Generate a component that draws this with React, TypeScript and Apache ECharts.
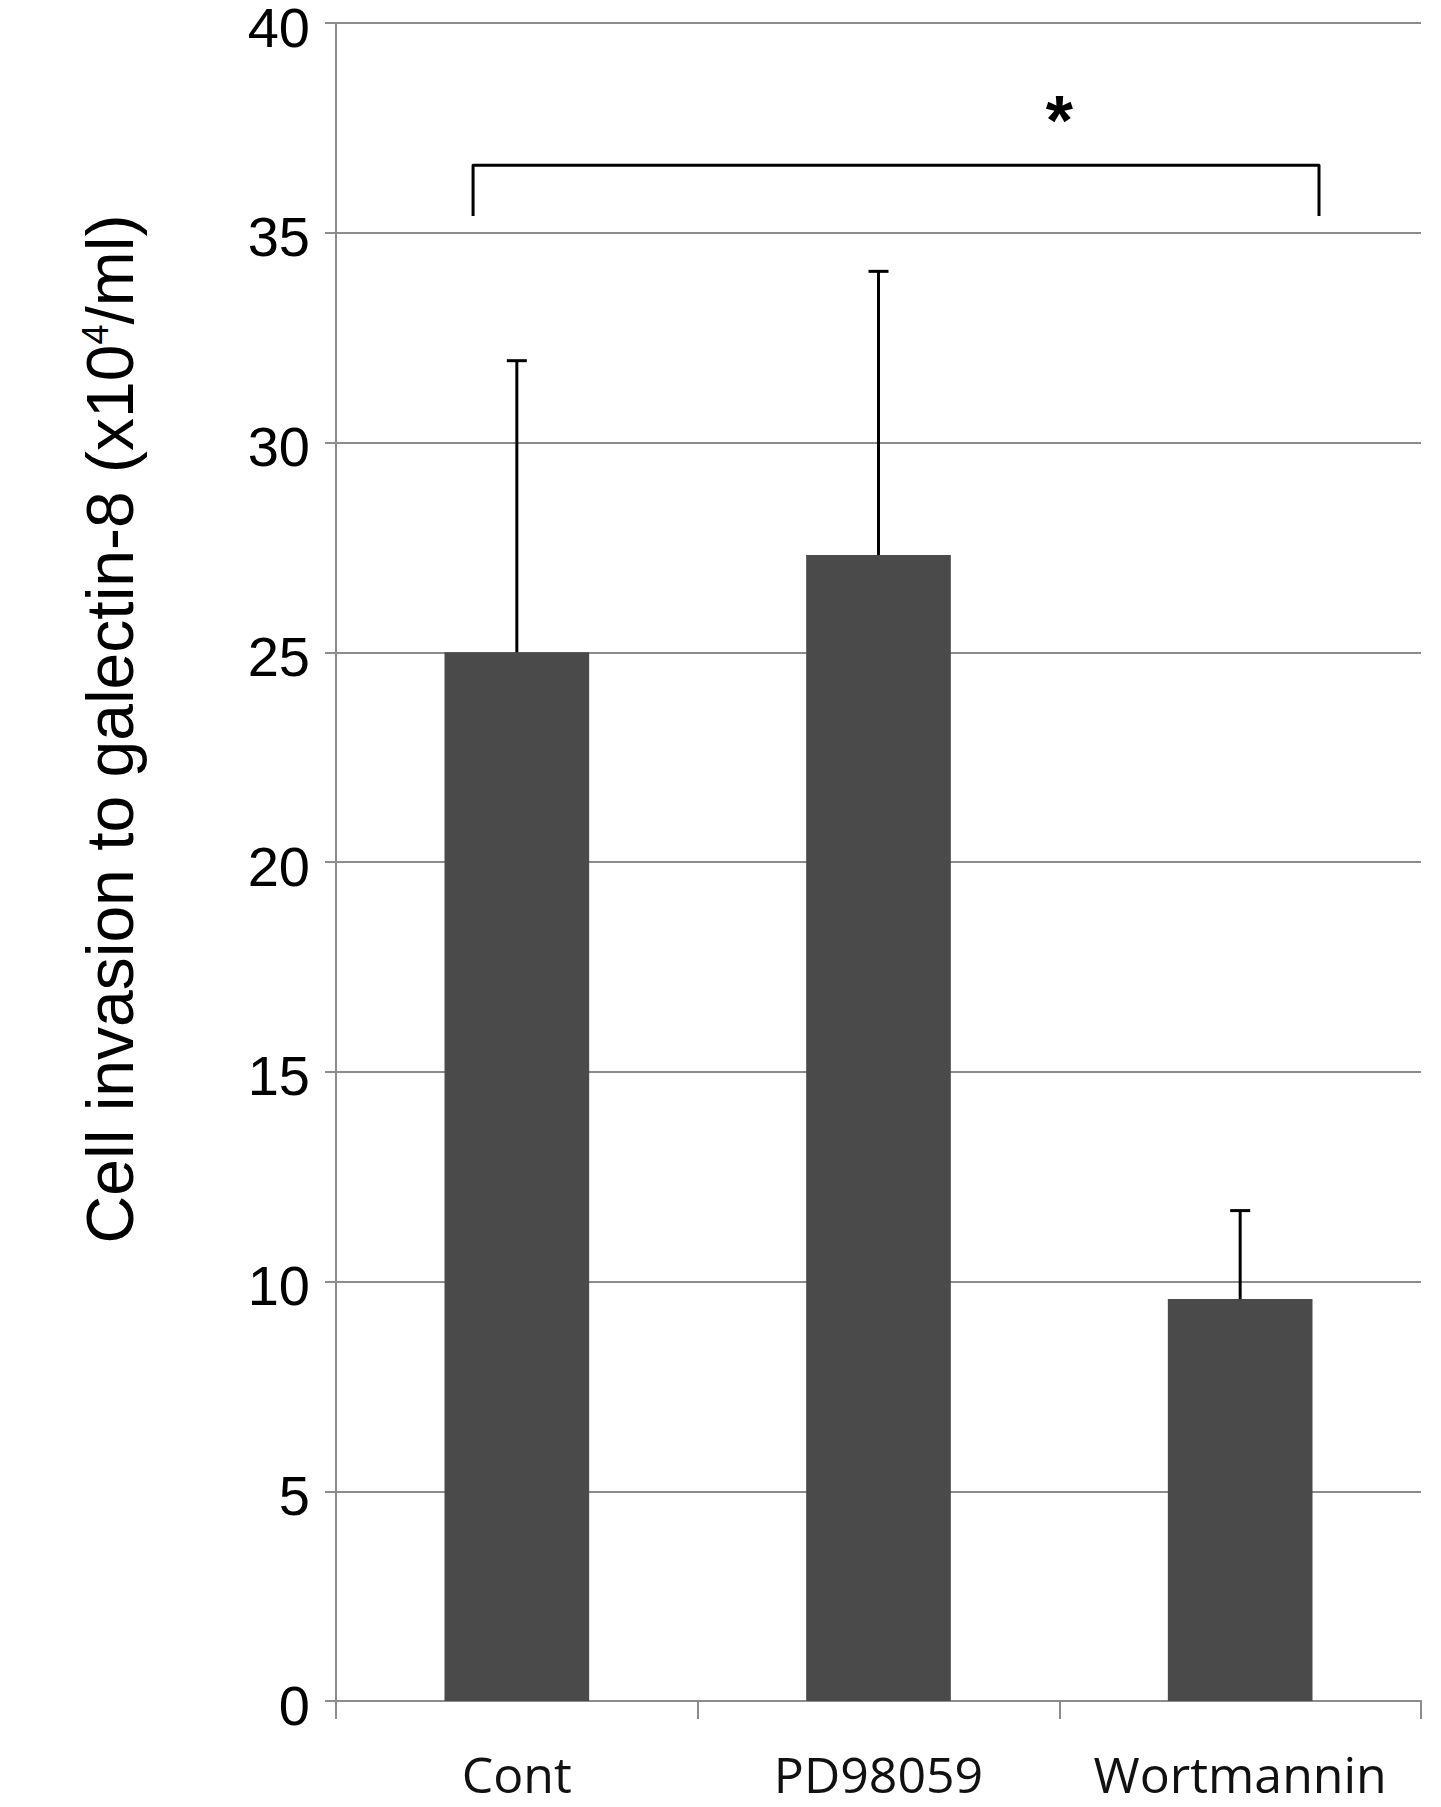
import React, { useEffect, useRef } from "react";
import * as echarts from "echarts";

// ---- data ----
const categories = ["Cont", "PD98059", "Wortmannin"];
const means = [25.0, 27.32, 9.58];
const errors = [6.95, 6.76, 2.11]; // upper error bar lengths
const yMin = 0;
const yMax = 40;
const yInterval = 5;

// significance bracket (category-index coordinates, value coordinates)
const bracketStart = -0.121; // relative to first category centre
const bracketEnd = 2.218;
const bracketTop = 36.61;
const bracketFoot = 35.4;
const asteriskX = 1.5;
const asteriskY = 37.66;
const asteriskText = "*";

const yTitleMain1 = "Cell invasion to galectin-8 (x10";
const yTitleSup = "4";
const yTitleMain2 = "/ml)";

const GRAY = "#8c8c8c";
const BAR = "#4a4a4a";

export default function App() {
  const ref = useRef<HTMLDivElement>(null);

  useEffect(() => {
    if (!ref.current) return;
    const chart = echarts.init(ref.current, undefined, { renderer: "svg" });

    const errData = categories.map((_, i) => [i, means[i], means[i] + errors[i]]);

    const option: any = {
      animation: false,
      backgroundColor: "#ffffff",
      grid: {
        left: 336,
        top: 23,
        width: 1085,
        height: 1678,
        containLabel: false,
        outerBoundsMode: "none",
      },
      xAxis: {
        type: "category",
        data: categories,
        boundaryGap: true,
        axisLine: { show: true, lineStyle: { color: GRAY, width: 2 } },
        axisTick: { show: true, interval: 0, length: 18, lineStyle: { color: GRAY, width: 2 } },
        axisLabel: {
          interval: 0,
          hideOverlap: false,
          margin: 48,
          fontSize: 50,
          color: "#111111",
          fontFamily: "'Open Sans', 'Noto Sans', sans-serif",
        },
        splitLine: { show: false },
      },
      yAxis: {
        type: "value",
        min: yMin,
        max: yMax,
        interval: yInterval,
        axisLine: { show: true, lineStyle: { color: GRAY, width: 2 } },
        axisTick: { show: true, length: 11, lineStyle: { color: GRAY, width: 2 } },
        axisLabel: {
          margin: 26,
          formatter: (v: number) => `{v|${v}}`,
          rich: {
            v: {
              fontSize: 56,
              lineHeight: 30,
              padding: [8, 0, 0, 0],
              color: "#000000",
              fontFamily: "'Liberation Sans', Arial, sans-serif",
            },
          },
        },
        splitLine: { show: true, lineStyle: { color: GRAY, width: 2 } },
      },
      graphic: [
        {
          type: "text",
          x: 110,
          y: 729,
          rotation: Math.PI / 2,
          style: {
            text: `{a|${yTitleMain1}}{s|${yTitleSup}}{a|${yTitleMain2}}`,
            align: "center",
            verticalAlign: "middle",
            fill: "#000",
            rich: {
              a: {
                fontSize: 66,
                lineHeight: 66,
                fontFamily: "'Liberation Sans', Arial, sans-serif",
                fill: "#000",
                color: "#000",
              },
              s: {
                fontSize: 36,
                lineHeight: 36,
                verticalAlign: "top",
                fontFamily: "'Liberation Sans', Arial, sans-serif",
                fill: "#000",
                color: "#000",
              },
            },
          },
        },
      ],
      series: [
        {
          type: "bar",
          data: means,
          barWidth: "40%",
          itemStyle: { color: BAR },
          z: 2,
        },
        {
          type: "custom",
          z: 5,
          clip: false,
          data: errData,
          encode: { x: 0, y: [1, 2] },
          renderItem: (params: any, api: any) => {
            const i = api.value(0);
            const base = api.coord([i, api.value(1)]);
            const top = api.coord([i, api.value(2)]);
            const cap = 10;
            const st = { stroke: "#000", lineWidth: 3 };
            return {
              type: "group",
              children: [
                { type: "line", shape: { x1: base[0], y1: base[1], x2: top[0], y2: top[1] }, style: st },
                { type: "line", shape: { x1: top[0] - cap, y1: top[1], x2: top[0] + cap, y2: top[1] }, style: st },
              ],
            };
          },
        },
        {
          type: "custom",
          z: 5,
          clip: false,
          data: [[0, bracketStart, bracketEnd, bracketTop, bracketFoot, asteriskX, asteriskY]],
          encode: { x: 0, y: 3 },
          renderItem: (params: any, api: any) => {
            const band = api.size([1, 0])[0];
            const c0 = api.coord([0, api.value(3)]);
            const foot = api.coord([0, api.value(4)]);
            const xl = c0[0] + api.value(1) * band;
            const xr = c0[0] + api.value(2) * band;
            const yt = c0[1];
            const yb = foot[1];
            const ast = api.coord([0, api.value(6)]);
            const ax = c0[0] + api.value(5) * band;
            return {
              type: "group",
              children: [
                {
                  type: "polyline",
                  shape: { points: [[xl, yb], [xl, yt], [xr, yt], [xr, yb]] },
                  style: { stroke: "#000", lineWidth: 3, fill: "none", lineJoin: "round" },
                },
                {
                  type: "text",
                  x: ax,
                  y: ast[1],
                  style: {
                    text: asteriskText,
                    fontSize: 70,
                    fontWeight: "bold",
                    fontFamily: "'Liberation Sans', Arial, sans-serif",
                    fill: "#000",
                    align: "center",
                    verticalAlign: "middle",
                  },
                },
              ],
            };
          },
        },
      ],
    };

    chart.setOption(option);
    return () => chart.dispose();
  }, []);

  return (
    <div
      ref={ref}
      style={{ position: "absolute", left: 0, top: 0, width: 1441, height: 1807, background: "#fff" }}
    />
  );
}
